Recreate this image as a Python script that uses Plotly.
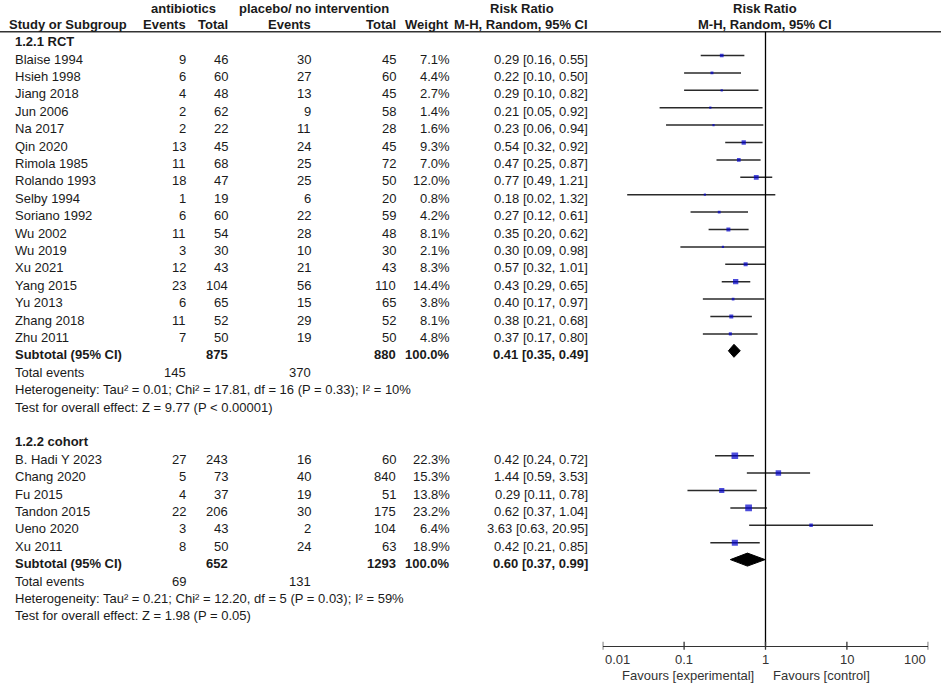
import math

import plotly.graph_objects as go

W, H = 941, 683

# ---- data ----
rct_study = ["Blaise 1994", "Hsieh 1998", "Jiang 2018", "Jun 2006", "Na 2017", "Qin 2020",
             "Rimola 1985", "Rolando 1993", "Selby 1994", "Soriano 1992", "Wu 2002", "Wu 2019",
             "Xu 2021", "Yang 2015", "Yu 2013", "Zhang 2018", "Zhu 2011"]
rct_ab_events = [9, 6, 4, 2, 2, 13, 11, 18, 1, 6, 11, 3, 12, 23, 6, 11, 7]
rct_ab_total = [46, 60, 48, 62, 22, 45, 68, 47, 19, 60, 54, 30, 43, 104, 65, 52, 50]
rct_pl_events = [30, 27, 13, 9, 11, 24, 25, 25, 6, 22, 28, 10, 21, 56, 15, 29, 19]
rct_pl_total = [45, 60, 45, 58, 28, 45, 72, 50, 20, 59, 48, 30, 43, 110, 65, 52, 50]
rct_weight = [7.1, 4.4, 2.7, 1.4, 1.6, 9.3, 7.0, 12.0, 0.8, 4.2, 8.1, 2.1, 8.3, 14.4, 3.8, 8.1, 4.8]
rct_rr = [0.29, 0.22, 0.29, 0.21, 0.23, 0.54, 0.47, 0.77, 0.18, 0.27, 0.35, 0.30, 0.57, 0.43, 0.40, 0.38, 0.37]
rct_lo = [0.16, 0.10, 0.10, 0.05, 0.06, 0.32, 0.25, 0.49, 0.02, 0.12, 0.20, 0.09, 0.32, 0.29, 0.17, 0.21, 0.17]
rct_hi = [0.55, 0.50, 0.82, 0.92, 0.94, 0.92, 0.87, 1.21, 1.32, 0.61, 0.62, 0.98, 1.01, 0.65, 0.97, 0.68, 0.80]
rct_summary = {"ab_total": 875, "pl_total": 880, "rr": 0.41, "lo": 0.35, "hi": 0.49,
               "ab_events": 145, "pl_events": 370}
rct_het = "Heterogeneity: Tau² = 0.01; Chi² = 17.81, df = 16 (P = 0.33); I² = 10%"
rct_test = "Test for overall effect: Z = 9.77 (P < 0.00001)"

coh_study = ["B. Hadi Y 2023", "Chang 2020", "Fu 2015", "Tandon 2015", "Ueno 2020", "Xu 2011"]
coh_ab_events = [27, 5, 4, 22, 3, 8]
coh_ab_total = [243, 73, 37, 206, 43, 50]
coh_pl_events = [16, 40, 19, 30, 2, 24]
coh_pl_total = [60, 840, 51, 175, 104, 63]
coh_weight = [22.3, 15.3, 13.8, 23.2, 6.4, 18.9]
coh_rr = [0.42, 1.44, 0.29, 0.62, 3.63, 0.42]
coh_lo = [0.24, 0.59, 0.11, 0.37, 0.63, 0.21]
coh_hi = [0.72, 3.53, 0.78, 1.04, 20.95, 0.85]
coh_summary = {"ab_total": 652, "pl_total": 1293, "rr": 0.60, "lo": 0.37, "hi": 0.99,
               "ab_events": 69, "pl_events": 131}
coh_het = "Heterogeneity: Tau² = 0.21; Chi² = 12.20, df = 5 (P = 0.03); I² = 59%"
coh_test = "Test for overall effect: Z = 1.98 (P = 0.05)"

tick_vals = [0.01, 0.1, 1, 10, 100]
tick_text = ["0.01", "0.1", "1", "10", "100"]

# ---- layout helpers (pixel units) ----
FONT = "Liberation Sans, Arial, sans-serif"
INK = "#1a1a1a"
X_NAME = 13
C_AB_EV, C_AB_TOT, C_PL_EV, C_PL_TOT, C_W, C_CI = 188, 230, 313, 398, 452, 590
AXIS_Y = 645.7
HEAD_Y = 31.7


def row_y(k):
    return 41.6 + 17.4 * k


annotations = []


def txt(s, x, y, anchor="left", bold=False, color=INK):
    if bold:
        s = "<b>" + s + "</b>"
    annotations.append(dict(text=s, x=x / W, xref="paper", y=y, yref="y",
                            xanchor=anchor, yanchor="middle", showarrow=False,
                            font=dict(family=FONT, size=13, color=color)))


fig = go.Figure()

# header
txt("antibiotics", 183, 8, "center", True)
txt("placebo/ no intervention", 314, 8, "center", True)
txt("Risk Ratio", 522, 8, "center", True)
txt("Risk Ratio", 765, 8, "center", True)
txt("Study or Subgroup", 7, 24, "left", True)
txt("Events", C_AB_EV, 24, "right", True)
txt("Total", C_AB_TOT, 24, "right", True)
txt("Events", C_PL_EV, 24, "right", True)
txt("Total", C_PL_TOT, 24, "right", True)
txt("Weight", C_W - 1, 24, "right", True)
txt("M-H, Random, 95% CI", C_CI, 24, "right", True)
txt("M-H, Random, 95% CI", 765, 24, "center", True)

groups = [
    ("1.2.1 RCT", 0, rct_study, rct_ab_events, rct_ab_total, rct_pl_events, rct_pl_total,
     rct_weight, rct_rr, rct_lo, rct_hi, rct_summary, rct_het, rct_test),
    ("1.2.2 cohort", 23, coh_study, coh_ab_events, coh_ab_total, coh_pl_events, coh_pl_total,
     coh_weight, coh_rr, coh_lo, coh_hi, coh_summary, coh_het, coh_test),
]

for (title, start, study, ae, at, pe, pt, w, rr, lo, hi, summ, het, test) in groups:
    txt(title, X_NAME, row_y(start), "left", True)
    ys = []
    for i, name in enumerate(study):
        y = row_y(start + 1 + i)
        txt(name, X_NAME, y)
        txt(str(ae[i]), C_AB_EV, y, "right")
        txt(str(at[i]), C_AB_TOT, y, "right")
        txt(str(pe[i]), C_PL_EV, y, "right")
        txt(str(pt[i]), C_PL_TOT, y, "right")
        txt(f"{w[i]:.1f}%", C_W, y, "right")
        txt(f"{rr[i]:.2f} [{lo[i]:.2f}, {hi[i]:.2f}]", C_CI, y, "right")
        ys.append(y - 3.5)

    fig.add_trace(go.Scatter(
        x=rr, y=ys, mode="markers",
        marker=dict(symbol="square", color="#0000cc",
                    size=[max(2.2, 1.4 * v ** 0.5) for v in w], line=dict(width=0)),
        error_x=dict(type="data", symmetric=False,
                     array=[h - r for h, r in zip(hi, rr)],
                     arrayminus=[r - l for r, l in zip(rr, lo)],
                     color="#2a2a2a", thickness=1.5, width=0),
        showlegend=False, hoverinfo="skip"))

    k = start + 1 + len(study)
    y = row_y(k)
    txt("Subtotal (95% CI)", X_NAME, y, "left", True)
    txt(str(summ["ab_total"]), C_AB_TOT, y, "right", True)
    txt(str(summ["pl_total"]), C_PL_TOT, y, "right", True)
    txt("100.0%", C_W, y, "right", True)
    txt(f"{summ['rr']:.2f} [{summ['lo']:.2f}, {summ['hi']:.2f}]", C_CI, y, "right", True)
    yd = y - 4
    fig.add_trace(go.Scatter(
        x=[summ["lo"], summ["rr"], summ["hi"], summ["rr"], summ["lo"]],
        y=[yd, yd - 6.5, yd, yd + 6.5, yd],
        mode="lines", fill="toself", fillcolor="black",
        line=dict(color="black", width=1), showlegend=False, hoverinfo="skip"))

    y = row_y(k + 1)
    txt("Total events", X_NAME, y)
    txt(str(summ["ab_events"]), C_AB_EV, y, "right")
    txt(str(summ["pl_events"]), C_PL_EV, y, "right")
    txt(het, X_NAME, row_y(k + 2))
    txt(test, X_NAME, row_y(k + 3))

# axis tick labels (end labels sit inside the axis, as in RevMan)
for i, (t, lab) in enumerate(zip(tick_vals, tick_text)):
    anchor = "left" if i == 0 else ("right" if i == len(tick_vals) - 1 else "center")
    annotations.append(dict(text=lab, x=math.log10(t), xref="x", y=659, yref="y",
                            xanchor=anchor, yanchor="middle", showarrow=False,
                            font=dict(family=FONT, size=13, color="#333")))

# favours labels
txt("Favours [experimental]", 756, 675, "right", color="#333")
txt("Favours [control]", 771, 675, "left", color="#333")

shapes = [
    dict(type="line", xref="paper", yref="y", x0=0, x1=1, y0=HEAD_Y, y1=HEAD_Y,
         line=dict(color="#333", width=1.5)),
    dict(type="line", xref="x", yref="y", x0=1, x1=1, y0=HEAD_Y, y1=AXIS_Y,
         line=dict(color="black", width=1.3)),
]
for t in tick_vals:
    shapes.append(dict(type="line", xref="x", yref="y", x0=t, x1=t, y0=AXIS_Y - 4, y1=AXIS_Y + 4,
                       line=dict(color="#333", width=1.3)))

fig.update_layout(
    width=W, height=H,
    margin=dict(l=0, r=0, t=0, b=0),
    paper_bgcolor="white",
    plot_bgcolor="rgba(0,0,0,0)",
    xaxis=dict(type="log", range=[-2, 2], domain=[602.7 / W, 928.3 / W],
               anchor="free", position=(H - AXIS_Y) / H,
               showline=True, linecolor="#333", linewidth=1.3,
               ticks="", showticklabels=False, showgrid=False, zeroline=False),
    yaxis=dict(range=[H, 0], domain=[0, 1], visible=False, showgrid=False),
    annotations=annotations,
    shapes=shapes,
    font=dict(family=FONT),
)

fig.write_html("out.html", config={"displayModeBar": False},
               post_script="document.body.style.margin='0';")
